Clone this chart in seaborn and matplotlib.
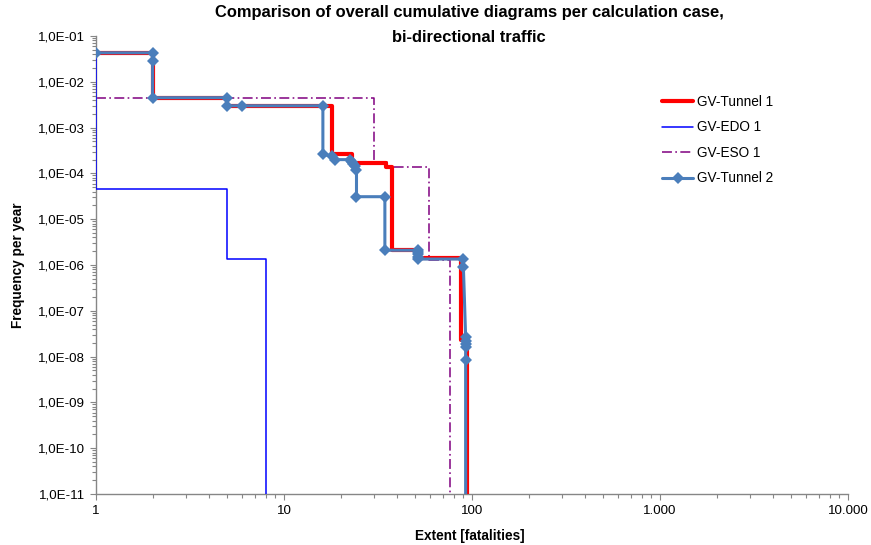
import numpy as np
import pandas as pd
import matplotlib
matplotlib.use("Agg")
import matplotlib.pyplot as plt
import matplotlib.ticker as mticker
import seaborn as sns

# Cumulative F-N curves, stored as the corner points of each step curve
tunnel1_extent = [1, 2, 2, 5, 5, 17.9, 17.9, 22.9, 22.9, 34.9, 34.9, 37.5, 37.5,
                  53, 53, 87, 87, 93.5, 93.5]
tunnel1_freq = [4.3e-2, 4.3e-2, 4.5e-3, 4.5e-3, 3.0e-3, 3.0e-3, 2.6e-4, 2.6e-4,
                1.65e-4, 1.65e-4, 1.4e-4, 1.4e-4, 2.1e-6, 2.1e-6, 1.4e-6, 1.4e-6,
                2.3e-8, 2.3e-8, 1e-12]

edo1_extent = [1, 1, 5, 5, 8, 8]
edo1_freq = [4.3e-2, 4.5e-5, 4.5e-5, 1.33e-6, 1.33e-6, 1e-12]

eso1_extent = [1, 30, 30, 35.5, 35.5, 59, 59, 76, 76]
eso1_freq = [4.5e-3, 4.5e-3, 1.8e-4, 1.8e-4, 1.35e-4, 1.35e-4, 1.3e-6, 1.3e-6, 1e-12]

tunnel2_extent = [1, 2, 2, 2, 5, 5, 6, 16.1, 16.1, 17.9, 18.7, 22.4, 22.9, 23.4,
                  23.9, 24.3, 24.3, 34.4, 34.4, 51.8, 51.8, 51.8, 51.8, 51.8, 90, 90,
                  92.5, 92.5, 92.5, 92.5, 92.5, 92.5]
tunnel2_freq = [4.3e-2, 4.3e-2, 2.9e-2, 4.5e-3, 4.5e-3, 3.0e-3, 3.0e-3, 3.0e-3,
                2.6e-4, 2.4e-4, 2.0e-4, 2.0e-4, 1.8e-4, 1.6e-4, 1.45e-4, 1.2e-4,
                3.1e-5, 3.1e-5, 2.1e-6, 2.1e-6, 1.9e-6, 1.7e-6, 1.5e-6, 1.35e-6,
                1.35e-6, 9e-7, 2.7e-8, 2.2e-8, 1.9e-8, 1.6e-8, 8.4e-9, 1e-12]

series_names = ["GV-Tunnel 1", "GV-EDO 1", "GV-ESO 1", "GV-Tunnel 2"]
x_tick_values = [1, 10, 100, 1000, 10000]
y_exponents = list(range(-11, 0))

sns.set_theme(style="white")
plt.rcParams["font.family"] = ["Liberation Sans", "DejaVu Sans"]
plt.rcParams["text.color"] = "#000000"

fig = plt.figure(figsize=(8.71, 5.45), dpi=100)
ax = fig.add_axes([96 / 871, 1 - 494 / 545, (848 - 96) / 871, (494 - 36) / 545])
ax.set_xscale("log")
ax.set_yscale("log")

styles = [
    dict(color="#FF0000", lw=3.0, zorder=3),
    dict(color="#0000FF", lw=1.1, zorder=4),
    dict(color="#800080", lw=1.1, dashes=(6.5, 2.2, 1.1, 2.2), zorder=2),
    dict(color="#4A7EBB", lw=2.2, marker="D", markersize=5.8, markeredgewidth=0,
         zorder=5),
]
data = [
    (tunnel1_extent, tunnel1_freq),
    (edo1_extent, edo1_freq),
    (eso1_extent, eso1_freq),
    (tunnel2_extent, tunnel2_freq),
]
for name, (xs, ys), st in zip(series_names, data, styles):
    df = pd.DataFrame({"extent": xs, "freq": ys})
    sns.lineplot(data=df, x="extent", y="freq", sort=False, estimator=None,
                 label=name, ax=ax, **st)

ax.set_xlim(1, 10000)
ax.set_ylim(1e-11, 1e-1)

ax.xaxis.set_major_locator(mticker.FixedLocator(x_tick_values))
ax.xaxis.set_major_formatter(mticker.FuncFormatter(
    lambda v, _: f"{int(round(v)):,}".replace(",", ".")))
ax.xaxis.set_minor_locator(mticker.LogLocator(base=10, subs=np.arange(2, 10), numticks=50))
ax.xaxis.set_minor_formatter(mticker.NullFormatter())

ax.yaxis.set_major_locator(mticker.FixedLocator([10.0 ** e for e in y_exponents]))
ax.yaxis.set_major_formatter(mticker.FuncFormatter(
    lambda v, _: f"1,0E{int(round(np.log10(v))):+03d}"))
ax.yaxis.set_minor_locator(mticker.LogLocator(base=10, subs=np.arange(2, 10), numticks=50))
ax.yaxis.set_minor_formatter(mticker.NullFormatter())

axis_grey = "#868686"
for side in ["top", "right"]:
    ax.spines[side].set_visible(False)
for side in ["left", "bottom"]:
    ax.spines[side].set_color(axis_grey)
    ax.spines[side].set_linewidth(1.0)
ax.tick_params(axis="both", which="major", direction="out", length=4, width=0.8,
               color=axis_grey, labelsize=9.6, labelcolor="#000000", pad=4,
               left=True, bottom=True)
ax.tick_params(axis="both", which="minor", direction="out", length=3, width=0.8,
               color=axis_grey, left=True, bottom=True)
ax.grid(False)

ax.set_xlabel("")
ax.set_ylabel("")
fig.text(470 / 871, 1 - 536 / 545, "Extent [fatalities]", ha="center", va="center",
         fontsize=9.8, fontweight="bold", color="#000000")
fig.text(18 / 871, 1 - 265 / 545, "Frequency per year", ha="center", va="center",
         rotation=90, fontsize=9.8, fontweight="bold", color="#000000")
fig.text(469 / 871, 1 - 13 / 545,
         "Comparison of overall cumulative diagrams per calculation case,",
         ha="center", va="center", fontsize=11.9, fontweight="bold", color="#000000")
fig.text(469 / 871, 1 - 38 / 545, "bi-directional traffic",
         ha="center", va="center", fontsize=11.9, fontweight="bold", color="#000000")

leg = ax.legend(loc="upper left", bbox_to_anchor=(662 / 871, 1 - 95 / 545),
                bbox_transform=fig.transFigure, frameon=False, fontsize=9.8,
                handlelength=2.3, handletextpad=0.3, labelspacing=0.84,
                borderpad=0, borderaxespad=0)
for txt in leg.get_texts():
    txt.set_color("#000000")

fig.savefig("out.png", dpi=100)
